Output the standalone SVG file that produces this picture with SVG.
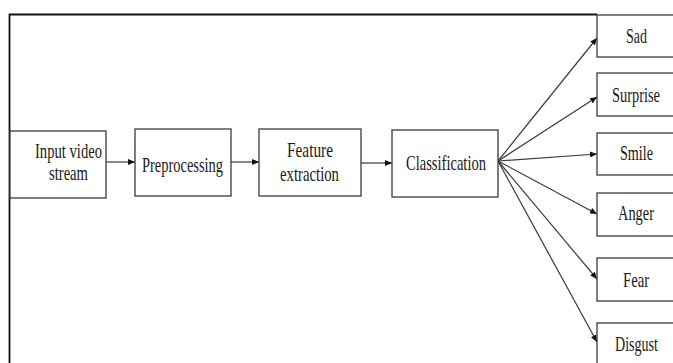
<svg xmlns="http://www.w3.org/2000/svg" width="673" height="363" viewBox="0 0 673 363">
<style>
.box{fill:#fff;stroke:#3a3a3a;stroke-width:1.3}
.lbl{font-family:"Liberation Serif","Times New Roman",serif;font-size:21.5px;fill:#1a1a1a;text-anchor:start}
.con{stroke:#3a3a3a;stroke-width:1.2;fill:none;marker-end:url(#ah)}
</style>
<defs>
<marker id="ah" markerWidth="8" markerHeight="6" refX="7" refY="3" orient="auto" markerUnits="userSpaceOnUse">
<path d="M0,0 L7,3 L0,6 Z" fill="#111"/>
</marker>
</defs>
<rect width="673" height="363" fill="#fff"/>
<path d="M9.5,363 V14.5 H597" fill="none" stroke="#111" stroke-width="1.8"/>
<g id="connectors">
<line class="con" x1="106" y1="162" x2="135" y2="162"/>
<line class="con" x1="231" y1="162" x2="259" y2="162"/>
<line class="con" x1="361" y1="163" x2="392" y2="163"/>
<line class="con" x1="498" y1="161" x2="597" y2="38"/>
<line class="con" x1="498" y1="161" x2="597" y2="97"/>
<line class="con" x1="498" y1="161" x2="597" y2="154"/>
<line class="con" x1="498" y1="161" x2="597" y2="214"/>
<line class="con" x1="498" y1="161" x2="597" y2="279"/>
<line class="con" x1="498" y1="161" x2="597" y2="342"/>
</g>
<g id="input">
<rect class="box" x="10" y="131" width="96" height="67"/>
<text class="lbl" x="35" y="158" textLength="67" lengthAdjust="spacingAndGlyphs">Input video</text>
<text class="lbl" x="49" y="180" textLength="39" lengthAdjust="spacingAndGlyphs">stream</text>
</g>
<g id="preprocessing">
<rect class="box" x="135" y="129" width="96" height="67"/>
<text class="lbl" x="142" y="172" textLength="81" lengthAdjust="spacingAndGlyphs">Preprocessing</text>
</g>
<g id="feature">
<rect class="box" x="259" y="129" width="102" height="67"/>
<text class="lbl" x="287" y="157" textLength="46" lengthAdjust="spacingAndGlyphs">Feature</text>
<text class="lbl" x="280" y="181" textLength="59" lengthAdjust="spacingAndGlyphs">extraction</text>
</g>
<g id="classification">
<rect class="box" x="392" y="130" width="106" height="67"/>
<text class="lbl" x="406" y="170" textLength="80" lengthAdjust="spacingAndGlyphs">Classification</text>
</g>
<g id="sad">
<rect class="box" x="597" y="15" width="77" height="42"/>
<text class="lbl" x="626" y="43" textLength="21" lengthAdjust="spacingAndGlyphs">Sad</text>
</g>
<g id="surprise">
<rect class="box" x="597" y="73" width="77" height="43"/>
<text class="lbl" x="612" y="102" textLength="48" lengthAdjust="spacingAndGlyphs">Surprise</text>
</g>
<g id="smile">
<rect class="box" x="597" y="133" width="77" height="42"/>
<text class="lbl" x="620" y="160" textLength="33" lengthAdjust="spacingAndGlyphs">Smile</text>
</g>
<g id="anger">
<rect class="box" x="597" y="193" width="77" height="43"/>
<text class="lbl" x="618" y="220" textLength="36" lengthAdjust="spacingAndGlyphs">Anger</text>
</g>
<g id="fear">
<rect class="box" x="597" y="258" width="77" height="43"/>
<text class="lbl" x="623" y="287" textLength="26" lengthAdjust="spacingAndGlyphs">Fear</text>
</g>
<g id="disgust">
<rect class="box" x="597" y="323" width="77" height="41"/>
<text class="lbl" x="615" y="351" textLength="43" lengthAdjust="spacingAndGlyphs">Disgust</text>
</g>
</svg>
